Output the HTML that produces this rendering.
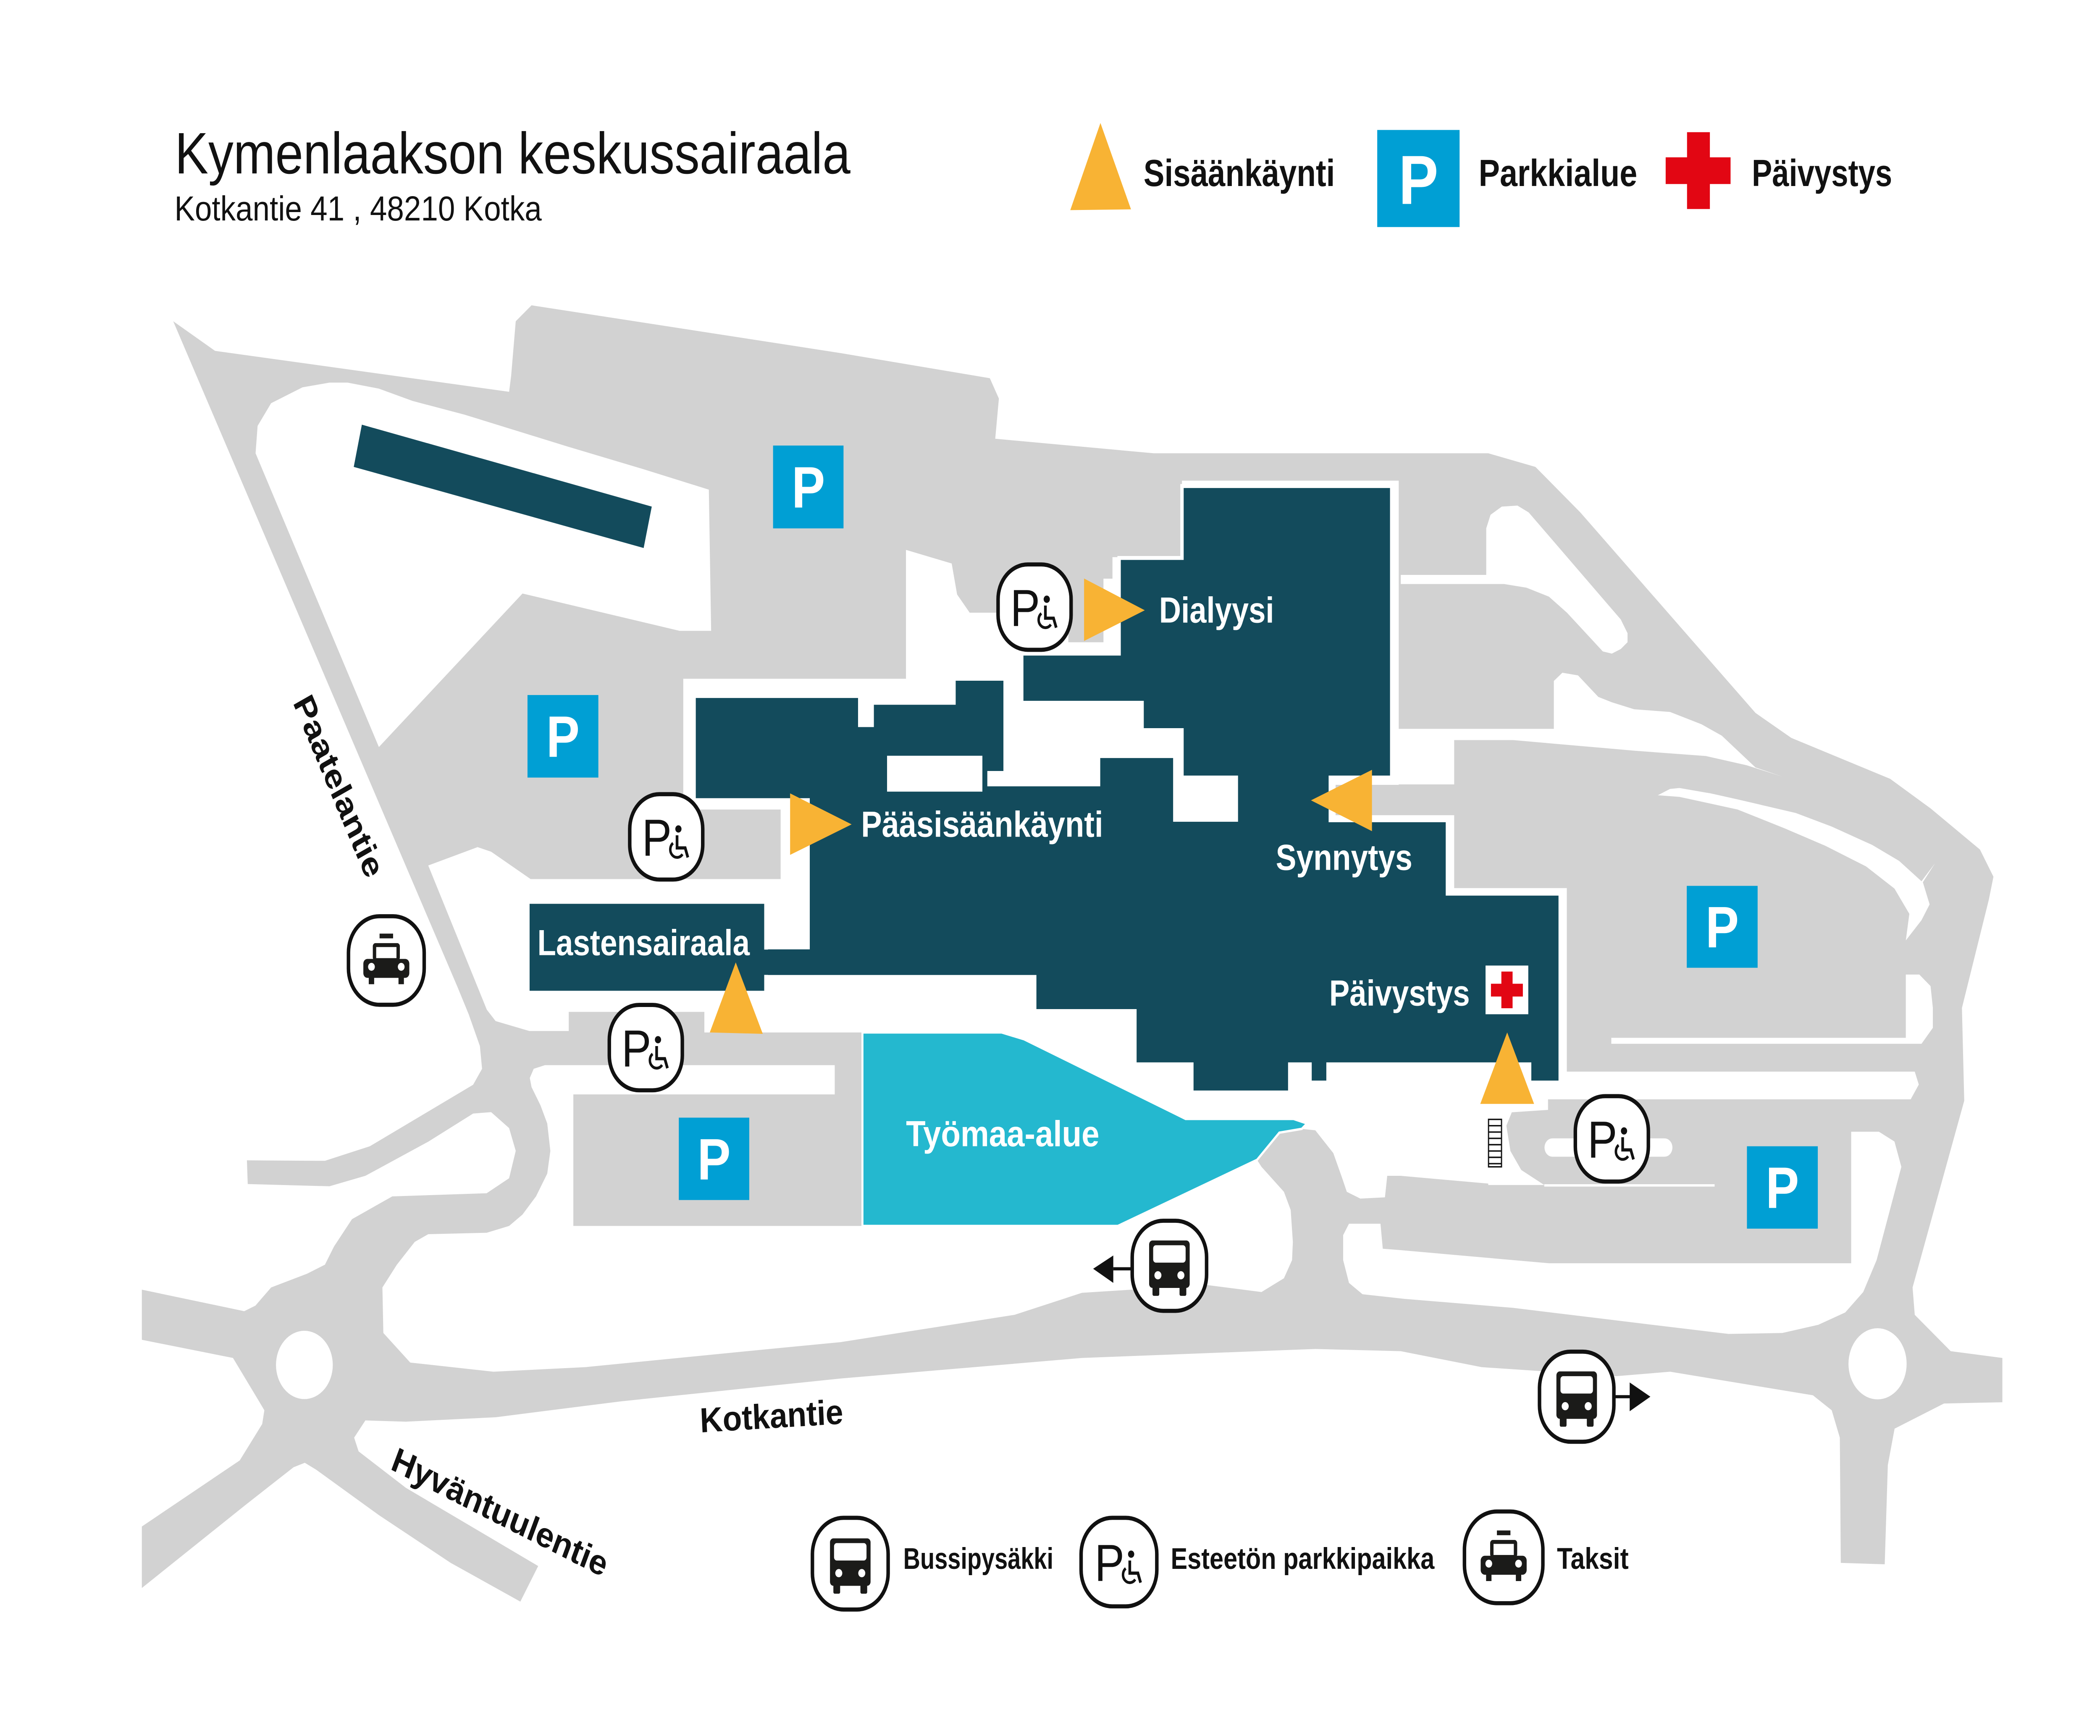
<!DOCTYPE html>
<html><head><meta charset="utf-8"><style>html,body{margin:0;padding:0;background:#fff;width:100%;height:100%;overflow:hidden}svg{display:block;position:absolute;left:0;top:0;width:100vw;height:100vh}</style></head>
<body>
<svg xmlns="http://www.w3.org/2000/svg" viewBox="0 0 1553 1098" preserveAspectRatio="none" font-family="'Liberation Sans', sans-serif">
<rect width="1553" height="1098" fill="#fff"/>
<path fill="#d2d2d2" d="M128.1,203.2 L159,221.9 376.5,247.8 378,237.7 381.4,203.2 393.1,193.1 621.5,223.3 732,239.2 738.7,252.1 736,277.5 853.2,286.7 1100.6,286.7 1135.5,295.3 1168.7,324.1 1298.2,450.9 1324.7,466.7 1397.8,492.6 1427.7,511.3 1464.2,537.3 1474.2,554.5 1470.8,569 1450.9,637.5 1452.6,696.2 1414.4,814.3 1416,831.6 1442.6,854.6 1480.8,858.9 1480.8,886.9 1437.6,887.7 1401.1,903.6 1396.1,926.6 1393.8,989.4 1361.3,988.5 1360.6,909.3 1354.6,892 1340.7,882.5 1235.1,867.6 1195.3,870.4 1095.7,864.7 1035.9,854.6 972.7,853.2 800.1,858.9 621.5,871.9 459.5,886.3 366.5,896.4 300.1,899.2 270.2,898.4 261.9,909.3 265.2,918 300.1,941 398,990.5 384.8,1013 333.3,988.5 280.2,958.3 233.7,929.5 225.4,925.2 217.1,928 180.6,952.5 104.9,1004.4 104.9,965.5 177.3,923.7 193.9,900.7 195.5,892 190.5,884.8 172.3,858.9 104.9,847.4 104.9,815.7 180.6,829.3 188.9,825.8 200.5,814.3 227.1,805.6 240.3,799.9 247,788.4 260.3,771.1 290.1,756.7 359.9,754.7 376.5,745.2 381.4,727.9 376.5,713.5 363.2,703.4 349.9,704.3 316.7,722.1 270.2,743.7 243.7,750.3 183.2,748.9 182.6,733.9 240.3,734.2 273.5,725 349.9,686.1 356.5,676 354.9,661.6 346.6,641.5 338.3,624.2 Z"/>
<g fill="#fff">
<path d="M189,286.7 190.5,269.4 200.5,255 223.7,245 243.7,242 257,242 280.2,245.8 305.1,253.6 343.3,262.2 419.6,282.4 476,296.8 524.2,309.7 525.9,399 502.6,399 386.4,375.4 280.2,472.5 Z"/>
<path d="M505.3,429.3 670,429.3 670,347.8 703.8,356.4 707.8,376 717.1,387.5 790.1,387.5 790.1,406.2 816,406.2 816,366 822.7,366 822.7,352.4 874.1,352.4 874.1,304 1034.4,304 1034.4,496.4 987.7,496.4 987.7,515.6 1075.4,515.6 1075.4,561.7 1158.7,561.7 1158.7,677.8 1416,677.8 1419,686 1413,695.3 1144.8,695.3 1144.8,702 1118,703.5 1114,712 1117,728 1125,740 1142,749.5 1100.6,749.5 1100.6,748.6 1035.9,743.7 1025.9,743.7 1024.2,757.3 1006,758.1 996,753.8 992.6,745.2 986,729.3 972.7,714.9 962.7,714 946.1,716.4 929.6,733.6 826.7,775.4 637.8,775.4 637.8,653 520.9,653 520.9,640 420.6,640 420.6,652.1 391.4,652.1 366.5,645.8 360,638.6 316.7,547.4 353.2,535.8 363.2,538.7 392.4,556 577.3,556 577.3,512 505.3,512 Z"/>
<path d="M403,673.7 617.3,673.7 617.3,692.2 424,692.2 424,775.4 826.7,775.4 929.6,733.6 932.9,738 949.5,753.8 954.5,765.3 956.1,785.5 955.5,797 949.5,808.5 932.9,817.2 893,812.8 836.6,815.7 800.1,817.7 750.3,831.6 621.5,848.9 552.4,854.6 432.9,864.7 364.9,867.6 303.4,861.8 283.5,843.1 282.8,814.3 293.5,799.9 306.7,785.5 316.7,780.6 359.9,779.7 376.5,775.4 386.4,768.2 396.4,756.7 404.7,742.3 407,727.9 404.7,710.6 399.7,699.1 393.1,687.6 391.8,681.8 394.7,676 Z"/>
<path d="M1035.9,363.6 1099.1,363.6 1099.1,334.2 1102.3,325.6 1110.6,320.4 1122.2,319.8 1130.5,324.1 1198.6,391.8 1203.6,400.5 1203.6,406.2 1198.6,410.5 1192,413.4 1185.3,412 1158.8,387.5 1145.5,377.4 1128.9,371.7 1112.3,369.4 1035.9,369.4 Z"/>
<path d="M1034,461 1149.1,461 1149.1,430.7 1155.4,425.5 1167,427.2 1182,440.8 1192,444.2 1208.5,448.6 1235,450.3 1258.3,458.1 1273.3,465.3 1298.2,485.4 1318.1,491.2 1291.6,484 1261.7,478.2 1208.5,474.8 1119,468.1 1075.4,468.1 1075.4,496.1 1034,496.1 Z"/>
<path d="M1226,503 1235,499 1242,498.4 1265,501.8 1285,505.6 1328,514.2 1354.6,522.8 1384.5,534.4 1404.4,544.5 1421,557.4 1431,546 1422,558 1427,572 1421,582 1409.4,594.8 1412,578 1401,562 1380,548 1350,535 1320,524 1285,512 1242,504 Z"/>
<path d="M1409.4,616.4 1419.4,616.4 1427.7,623.7 1429.4,637.5 1429.4,650.1 1421,660.2 1191.6,660.2 1191.6,656.4 1409.4,656.4 Z"/>
<path d="M1022.6,789.8 1035.9,790.7 1145.5,799 1369,799 1369,715.8 1389.5,715.8 1401,722 1406.1,738 1387.8,797 1377.9,817.2 1364.6,830.1 1344.7,837.9 1318.1,843.1 1278.3,843.7 1221.8,837.9 1118.9,827.2 1038.5,821.5 1007.6,818.6 997.6,811.4 993.3,797 993.3,781.2 997.6,774 1020.9,774 Z"/>
<rect x="1142.2" y="720" width="94.6" height="11.6" rx="5.8"/>
<rect x="1142" y="749" width="126" height="1.5"/>
<ellipse cx="1388.5" cy="862.6" rx="21.5" ry="22.5"/>
<ellipse cx="225.1" cy="863.3" rx="21" ry="21.6"/>
</g>
<rect x="790.1" y="366" width="25.9" height="40.2" fill="#d2d2d2"/>
<path d="M637.8,653 740.7,653 757.3,657.3 876.8,707.7 956.6,707.7 966.6,710.6 962.7,714 946.1,716.4 929.6,733.6 826.7,775.4 637.8,775.4 Z" fill="#24b8cf" stroke="#fff" stroke-width="1.5"/>
<polygon points="267.6,268.6 482,320.4 476,346.6 261.6,295.3" fill="#134b5c"/>
<path d="M513.3,440.2 635.8,440.2 635.8,458.6 645,458.6 645,444.5 705.5,444.5 705.5,429.3 743.3,429.3 743.3,488.9 731.4,488.9 731.4,496.1 812.4,496.1 812.4,478.2 868.8,478.2 868.8,518.5 914.3,518.5 914.3,491.8 874.1,491.8 874.1,461.8 844.6,461.8 844.6,444.5 755.6,444.5 755.6,413.4 827.6,413.4 827.6,352.9 874.1,352.9 874.1,307.4 1029.2,307.4 1029.2,491.8 983.8,491.8 983.8,518.8 1070.4,518.8 1070.4,565.2 1153.8,565.2 1153.8,684.7 1131.2,684.7 1131.2,673.2 982.1,673.2 982.1,684.7 968.8,684.7 968.8,673.2 953.8,673.2 953.8,691 881.4,691 881.4,673.2 839.3,673.2 839.3,639.5 765.2,639.5 765.2,617.9 566.7,617.9 566.7,599.2 597.6,599.2 597.6,506.1 513.3,506.1 Z" fill="#134b5c" stroke="#fff" stroke-width="2.5"/>
<rect x="656" y="478" width="70.5" height="22.7" fill="#fff"/>
<rect x="390.4" y="570.4" width="176" height="57.5" fill="#134b5c" stroke="#fff" stroke-width="2.5"/>
<rect x="560" y="600.6" width="42" height="16" fill="#134b5c"/>
<rect x="1098.6" y="610.7" width="31.6" height="30.8" fill="#fff"/>
<rect x="1110.3" y="614.5" width="8.3" height="23.2" fill="#e20613"/>
<rect x="1102.6" y="622.2" width="23.6" height="8.1" fill="#e20613"/>
<g fill="#009fd4">
<rect x="571.7" y="281.8" width="52.1" height="52.4"/>
<rect x="390.1" y="439.6" width="52.4" height="52.2"/>
<rect x="502" y="706.9" width="52.1" height="52.1"/>
<rect x="1247.4" y="560.3" width="52.4" height="51.8"/>
<rect x="1291.9" y="725" width="52.4" height="52.1"/>
<rect x="1018.5" y="82.2" width="60.9" height="61.4"/>
</g>
<g fill="#fff" font-size="37" font-weight="bold" text-anchor="middle">
<text x="597.8" y="321">P</text>
<text x="416.3" y="478.7">P</text>
<text x="528" y="746">P</text>
<text x="1273.6" y="599.2">P</text>
<text x="1318.1" y="764">P</text>
<text x="1049" y="129" font-size="44">P</text>
</g>
<g stroke="#111" stroke-width="0.9" fill="#fff">
<rect x="1100.8" y="708" width="9.6" height="30"/>
<path d="M1100.8,712h9.6M1100.8,716h9.6M1100.8,720h9.6M1100.8,724h9.6M1100.8,728h9.6M1100.8,732h9.6M1100.8,736h9.6"/>
</g>
<g fill="#f8b334">
<polygon points="801.7,365.9 846.6,386 801.7,405.4"/>
<polygon points="584.3,501.8 629.8,521.4 584.3,540.7"/>
<polygon points="1014.6,486.9 969.5,506.2 1014.6,525.7"/>
<polygon points="544.1,608.7 564.1,653.9 524.9,653"/>
<polygon points="1114.6,653 1134.5,698.2 1094.7,698.2"/>
<polygon points="813.8,77.8 836.4,132.4 791.5,132.9"/>
</g>
<rect x="1247.6" y="83.6" width="16.9" height="48.6" fill="#e20613"/>
<rect x="1231.8" y="99.5" width="48" height="16.9" fill="#e20613"/>
<g transform="translate(765.1,384)"><rect x="-27" y="-27" width="54" height="54" rx="22" fill="#fff" stroke="#111" stroke-width="2.6"/><text x="-18" y="12" font-size="33" fill="#111">P</text><circle cx="9" cy="-5" r="2.3" fill="#111"/><path d="M8,-1 v8 h6 l2,6" fill="none" stroke="#111" stroke-width="2"/><path d="M5,4 a5,5 0 1 0 7,7" fill="none" stroke="#111" stroke-width="1.8"/></g>
<g transform="translate(492.7,529.3)"><rect x="-27" y="-27" width="54" height="54" rx="22" fill="#fff" stroke="#111" stroke-width="2.6"/><text x="-18" y="12" font-size="33" fill="#111">P</text><circle cx="9" cy="-5" r="2.3" fill="#111"/><path d="M8,-1 v8 h6 l2,6" fill="none" stroke="#111" stroke-width="2"/><path d="M5,4 a5,5 0 1 0 7,7" fill="none" stroke="#111" stroke-width="1.8"/></g>
<g transform="translate(477.6,662.6)"><rect x="-27" y="-27" width="54" height="54" rx="22" fill="#fff" stroke="#111" stroke-width="2.6"/><text x="-18" y="12" font-size="33" fill="#111">P</text><circle cx="9" cy="-5" r="2.3" fill="#111"/><path d="M8,-1 v8 h6 l2,6" fill="none" stroke="#111" stroke-width="2"/><path d="M5,4 a5,5 0 1 0 7,7" fill="none" stroke="#111" stroke-width="1.8"/></g>
<g transform="translate(1192,720.3)"><rect x="-27" y="-27" width="54" height="54" rx="22" fill="#fff" stroke="#111" stroke-width="2.6"/><text x="-18" y="12" font-size="33" fill="#111">P</text><circle cx="9" cy="-5" r="2.3" fill="#111"/><path d="M8,-1 v8 h6 l2,6" fill="none" stroke="#111" stroke-width="2"/><path d="M5,4 a5,5 0 1 0 7,7" fill="none" stroke="#111" stroke-width="1.8"/></g>
<g transform="translate(827.5,988)"><rect x="-28" y="-28" width="56" height="56" rx="23" fill="#fff" stroke="#111" stroke-width="2.6"/><text x="-18" y="12" font-size="33" fill="#111">P</text><circle cx="9" cy="-5" r="2.3" fill="#111"/><path d="M8,-1 v8 h6 l2,6" fill="none" stroke="#111" stroke-width="2"/><path d="M5,4 a5,5 0 1 0 7,7" fill="none" stroke="#111" stroke-width="1.8"/></g>
<g transform="translate(864.8,800.6)"><rect x="-27.5" y="-28.5" width="55" height="57" rx="23" fill="#fff" stroke="#111" stroke-width="2.6"/><rect x="-15" y="-16" width="30" height="30" rx="2.5" fill="#1b1b19"/><rect x="-12" y="-13" width="24" height="11" rx="2" fill="#fff"/><circle cx="-8.5" cy="6" r="2.6" fill="#fff"/><circle cx="8.5" cy="6" r="2.6" fill="#fff"/><rect x="-12.5" y="13" width="5" height="6" rx="1" fill="#1b1b19"/><rect x="7.5" y="13" width="5" height="6" rx="1" fill="#1b1b19"/></g>
<g transform="translate(1166,883.4)"><rect x="-27.5" y="-28.5" width="55" height="57" rx="23" fill="#fff" stroke="#111" stroke-width="2.6"/><rect x="-15" y="-16" width="30" height="30" rx="2.5" fill="#1b1b19"/><rect x="-12" y="-13" width="24" height="11" rx="2" fill="#fff"/><circle cx="-8.5" cy="6" r="2.6" fill="#fff"/><circle cx="8.5" cy="6" r="2.6" fill="#fff"/><rect x="-12.5" y="13" width="5" height="6" rx="1" fill="#1b1b19"/><rect x="7.5" y="13" width="5" height="6" rx="1" fill="#1b1b19"/></g>
<g transform="translate(628.8,989)"><rect x="-28" y="-29" width="56" height="58" rx="23" fill="#fff" stroke="#111" stroke-width="2.6"/><rect x="-15" y="-16" width="30" height="30" rx="2.5" fill="#1b1b19"/><rect x="-12" y="-13" width="24" height="11" rx="2" fill="#fff"/><circle cx="-8.5" cy="6" r="2.6" fill="#fff"/><circle cx="8.5" cy="6" r="2.6" fill="#fff"/><rect x="-12.5" y="13" width="5" height="6" rx="1" fill="#1b1b19"/><rect x="7.5" y="13" width="5" height="6" rx="1" fill="#1b1b19"/></g>
<path d="M823.3,802.5 H837" stroke="#111" stroke-width="2"/>
<polygon points="808.4,802.5 823.3,794.1 823.3,811.4" fill="#111"/>
<path d="M1194,883.4 H1206" stroke="#111" stroke-width="2"/>
<polygon points="1220.5,883.4 1205.2,874.4 1205.2,892.6" fill="#111"/>
<g transform="translate(285.7,607.5)"><rect x="-28" y="-28" width="56" height="56" rx="23" fill="#fff" stroke="#111" stroke-width="2.6"/><rect x="-5" y="-17" width="10" height="3" fill="#1b1b19"/><rect x="-10" y="-11" width="20" height="11" rx="2" fill="#1b1b19"/><rect x="-7.5" y="-8.5" width="15" height="7" fill="#fff"/><rect x="-17" y="-1" width="34" height="12" rx="3" fill="#1b1b19"/><circle cx="-11" cy="4" r="2.5" fill="#fff"/><circle cx="11" cy="4" r="2.5" fill="#fff"/><rect x="-13" y="10" width="4" height="5" fill="#1b1b19"/><rect x="9" y="10" width="4" height="5" fill="#1b1b19"/></g>
<g transform="translate(1112,985)"><rect x="-29" y="-29" width="58" height="58" rx="24" fill="#fff" stroke="#111" stroke-width="2.6"/><rect x="-5" y="-17" width="10" height="3" fill="#1b1b19"/><rect x="-10" y="-11" width="20" height="11" rx="2" fill="#1b1b19"/><rect x="-7.5" y="-8.5" width="15" height="7" fill="#fff"/><rect x="-17" y="-1" width="34" height="12" rx="3" fill="#1b1b19"/><circle cx="-11" cy="4" r="2.5" fill="#fff"/><circle cx="11" cy="4" r="2.5" fill="#fff"/><rect x="-13" y="10" width="4" height="5" fill="#1b1b19"/><rect x="9" y="10" width="4" height="5" fill="#1b1b19"/></g>
<g fill="#fff" font-size="23" font-weight="bold">
<text x="857.2" y="393.8" textLength="85" lengthAdjust="spacingAndGlyphs">Dialyysi</text>
<text x="636.8" y="529.2" textLength="179" lengthAdjust="spacingAndGlyphs">Pääsisäänkäynti</text>
<text x="943.5" y="550.2" textLength="101" lengthAdjust="spacingAndGlyphs">Synnytys</text>
<text x="983" y="636" textLength="104" lengthAdjust="spacingAndGlyphs">Päivystys</text>
<text x="397.4" y="604.1" textLength="157" lengthAdjust="spacingAndGlyphs">Lastensairaala</text>
<text x="670" y="724.9" textLength="143" lengthAdjust="spacingAndGlyphs">Työmaa-alue</text>
</g>
<g fill="#111" font-size="22" font-weight="bold">
<text transform="rotate(-3 518 906)" x="518" y="906" textLength="106" lengthAdjust="spacingAndGlyphs">Kotkantie</text>
<text transform="rotate(23.5 288 929)" x="288" y="929" textLength="172" lengthAdjust="spacingAndGlyphs">Hyväntuulentie</text>
<g transform="translate(251,497) rotate(64)"><text x="0" y="8" text-anchor="middle" textLength="125" lengthAdjust="spacingAndGlyphs">Paatelantie</text></g>
</g>
<text x="129.3" y="109.7" font-size="37" fill="#111" textLength="499.6" lengthAdjust="spacingAndGlyphs">Kymenlaakson keskussairaala</text>
<text x="129" y="139.5" font-size="22" fill="#111" textLength="271.6" lengthAdjust="spacingAndGlyphs">Kotkantie 41 , 48210 Kotka</text>
<g fill="#111" font-size="24" font-weight="bold">
<text x="845.7" y="117.6" textLength="141.5" lengthAdjust="spacingAndGlyphs">Sisäänkäynti</text>
<text x="1093.5" y="117.6" textLength="117.3" lengthAdjust="spacingAndGlyphs">Parkkialue</text>
<text x="1295.5" y="117.6" textLength="103.8" lengthAdjust="spacingAndGlyphs">Päivystys</text>
</g>
<g fill="#111" font-size="19" font-weight="bold">
<text x="668" y="992.3" textLength="111" lengthAdjust="spacingAndGlyphs">Bussipysäkki</text>
<text x="865.8" y="992.3" textLength="195" lengthAdjust="spacingAndGlyphs">Esteetön parkkipaikka</text>
<text x="1151.4" y="992.3" textLength="53" lengthAdjust="spacingAndGlyphs">Taksit</text>
</g>
</svg>
</body></html>
